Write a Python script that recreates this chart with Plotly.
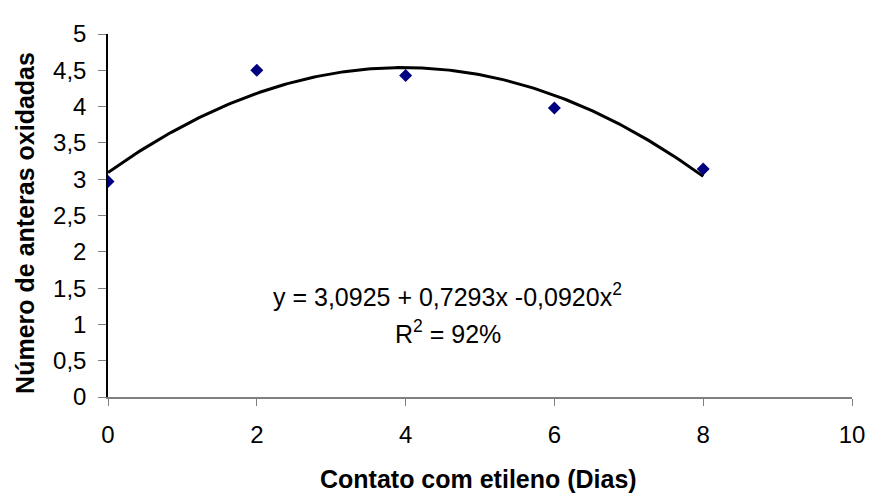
import numpy as np
import plotly.graph_objects as go

dias = [0, 2, 4, 6, 8]
anteras = [2.97, 4.50, 4.43, 3.98, 3.14]
coef = [3.0925, 0.7293, -0.0920]  # trendline coefficients shown on chart
x_ticks = [0, 2, 4, 6, 8, 10]
y_ticks = [0, 0.5, 1, 1.5, 2, 2.5, 3, 3.5, 4, 4.5, 5]
y_ticktext = ["0", "0,5", "1", "1,5", "2", "2,5", "3", "3,5", "4", "4,5", "5"]

xf = np.linspace(min(dias), max(dias), 200)
yf = coef[0] + coef[1] * xf + coef[2] * xf ** 2

W, H = 869, 486
L, R, T, B = 100, 16, 20, 97
pw, ph = W - L - R, H - T - B


def px(x):
    return (x - L) / pw


def py(y):
    return 1 - (y - T) / ph


fig = go.Figure()
fig.add_trace(go.Scatter(x=xf, y=yf, mode="lines",
                         line=dict(color="black", width=3), hoverinfo="skip"))
fig.add_trace(go.Scatter(x=dias, y=anteras, mode="markers",
                         marker=dict(symbol="diamond", color="#000080", size=10)))

font = "Liberation Sans, Arial, sans-serif"
ann = dict(xref="paper", yref="paper", showarrow=False, xanchor="center", yanchor="middle")
fig.update_layout(
    width=W, height=H,
    margin=dict(l=L, r=R, t=T, b=B),
    plot_bgcolor="white", paper_bgcolor="white",
    showlegend=False,
    font=dict(family=font, size=24, color="black"),
    xaxis=dict(range=[0, 10], tickvals=x_ticks, showgrid=False, zeroline=False,
               showline=True, linecolor="#808080", linewidth=1.5,
               ticks="outside", tickcolor="#808080", ticklen=7,
               ticklabelstandoff=8, ticklabeloverflow="allow", tickfont=dict(size=24)),
    yaxis=dict(range=[0, 5], tickvals=y_ticks, ticktext=y_ticktext, showgrid=False,
               zeroline=False, showline=True, linecolor="black", linewidth=1.5,
               ticks="outside", tickcolor="#808080", ticklen=8,
               ticklabelstandoff=7, tickfont=dict(size=24)),
    annotations=[
        dict(ann, x=px(444), y=py(285),
             text="y = 3,0925 + 0,7293x -0,0920x<sup>2</sup>", font=dict(size=25)),
        dict(ann, x=px(444), y=py(323),
             text="R<sup>2</sup> = 92%", font=dict(size=25)),
        dict(ann, x=px(475), y=py(472),
             text="<b>Contato com etileno (Dias)</b>", font=dict(size=25)),
        dict(ann, x=px(16), y=py(212), textangle=-90,
             text="<b>Número de anteras oxidadas</b>", font=dict(size=25)),
    ],
)

fig.write_html("out.html")
